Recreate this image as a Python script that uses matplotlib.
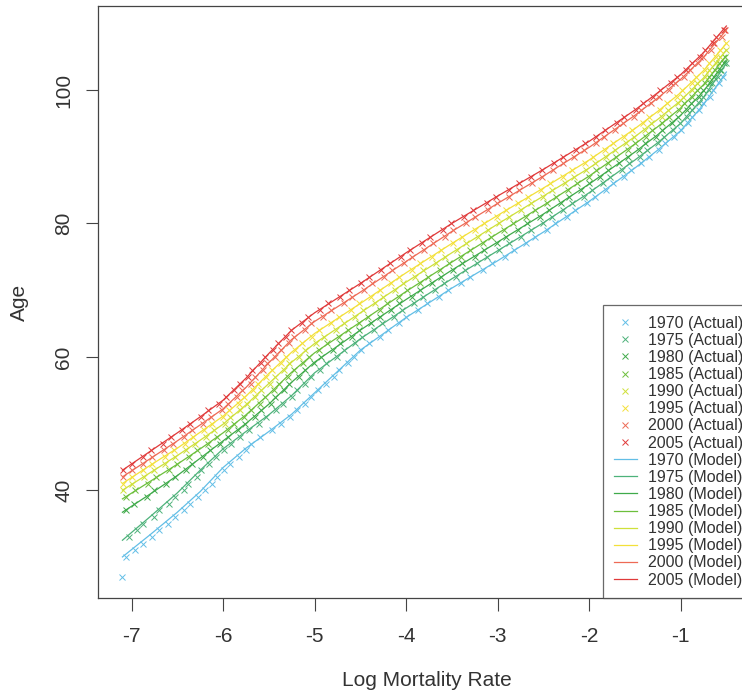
import numpy as np
import matplotlib
matplotlib.use("Agg")
import matplotlib.pyplot as plt

plt.rcParams['font.family'] = ['Liberation Sans', 'DejaVu Sans']

years = [1970, 1975, 1980, 1985, 1990, 1995, 2000, 2005]
colors = ['#62bee6', '#4db27a', '#3faa4a', '#6cbf3c', '#cfe03a', '#f3e03a', '#ee6a55', '#e03a3a']

# model curves: age read at each log mortality grid value
x_grid = [-7.1, -6.8, -6.5, -6.25, -6.0, -5.75, -5.5, -5.25, -5.0, -4.5,
          -4.0, -3.5, -3.0, -2.5, -2.0, -1.5, -1.25, -1.0, -0.75, -0.5]
fit_1970 = [30.0, 33.3, 36.7, 39.8, 43.4, 46.3, 48.8, 51.4, 54.6, 61.0, 65.9, 70.3, 74.4, 78.7, 83.3, 88.3, 91.0, 93.9, 97.8, 102.7]
fit_1975 = [32.5, 36.0, 39.6, 43.0, 46.2, 48.8, 51.3, 54.2, 57.6, 62.7, 67.3, 71.7, 75.9, 80.1, 84.6, 89.5, 92.1, 95.0, 98.9, 104.0]
fit_1980 = [36.7, 39.4, 42.2, 44.8, 47.4, 50.0, 52.9, 56.2, 59.2, 64.0, 68.6, 73.0, 77.2, 81.4, 85.9, 90.7, 93.3, 96.2, 99.8, 104.5]
fit_1985 = [38.7, 41.3, 43.9, 46.2, 48.6, 51.3, 54.4, 57.7, 60.6, 65.2, 69.8, 74.2, 78.5, 82.7, 87.1, 91.9, 94.5, 97.3, 100.8, 105.2]
fit_1990 = [40.0, 42.6, 45.2, 47.5, 49.9, 52.8, 56.0, 59.2, 62.0, 66.6, 71.2, 75.6, 79.9, 84.1, 88.3, 93.0, 95.6, 98.4, 101.8, 106.0]
fit_1995 = [41.0, 43.7, 46.3, 48.7, 51.1, 54.1, 57.5, 60.7, 63.5, 68.0, 72.6, 77.0, 81.2, 85.3, 89.5, 94.2, 96.8, 99.6, 102.9, 107.0]
fit_2000 = [42.0, 44.7, 47.4, 49.8, 52.2, 55.4, 59.1, 62.6, 65.3, 69.7, 74.3, 78.8, 83.0, 87.1, 91.4, 96.2, 98.8, 101.6, 104.9, 109.0]
fit_2005 = [43.0, 45.8, 48.6, 51.0, 53.5, 56.8, 60.5, 64.0, 66.6, 71.0, 75.6, 80.0, 84.1, 88.1, 92.3, 97.0, 99.6, 102.3, 105.6, 109.6]

# actual log mortality, one value per age from the start age
start_age = [30, 33, 37, 39, 40, 41, 42, 43]
act_1970 = [-7.06, -6.96, -6.88, -6.78, -6.70, -6.60, -6.53, -6.43, -6.36, -6.27, -6.20, -6.12, -6.07, -5.99,
            -5.92, -5.83, -5.75, -5.69, -5.60, -5.47, -5.37, -5.27, -5.19, -5.11, -5.04, -4.96, -4.88, -4.79,
            -4.73, -4.63, -4.57, -4.49, -4.41, -4.29, -4.20, -4.08, -4.00, -3.87, -3.77, -3.64, -3.54, -3.40,
            -3.30, -3.16, -3.06, -2.92, -2.82, -2.69, -2.59, -2.46, -2.37, -2.24, -2.15, -2.02, -1.94, -1.82,
            -1.74, -1.62, -1.54, -1.43, -1.35, -1.24, -1.17, -1.07, -1.00, -0.92, -0.88, -0.80, -0.75, -0.68,
            -0.65, -0.58, -0.54]
act_1975 = [-7.03, -6.94, -6.87, -6.76, -6.70, -6.59, -6.53, -6.43, -6.38, -6.29, -6.24, -6.15, -6.08, -5.99,
            -5.91, -5.81, -5.72, -5.61, -5.53, -5.42, -5.35, -5.25, -5.19, -5.10, -5.04, -4.94, -4.87, -4.75,
            -4.68, -4.56, -4.48, -4.35, -4.26, -4.13, -4.04, -3.91, -3.82, -3.68, -3.59, -3.45, -3.36, -3.22,
            -3.12, -2.98, -2.88, -2.74, -2.64, -2.50, -2.41, -2.28, -2.19, -2.06, -1.97, -1.85, -1.77, -1.64,
            -1.56, -1.44, -1.37, -1.25, -1.18, -1.08, -1.01, -0.93, -0.88, -0.80, -0.76, -0.69, -0.66, -0.59,
            -0.56, -0.50]
act_1980 = [-7.06, -6.97, -6.83, -6.75, -6.62, -6.53, -6.41, -6.34, -6.22, -6.14, -6.03, -5.95, -5.84, -5.76,
            -5.65, -5.59, -5.48, -5.43, -5.33, -5.28, -5.17, -5.11, -5.01, -4.93, -4.80, -4.72, -4.59, -4.51,
            -4.38, -4.29, -4.16, -4.08, -3.94, -3.85, -3.72, -3.62, -3.49, -3.39, -3.25, -3.15, -3.01, -2.91,
            -2.78, -2.68, -2.54, -2.44, -2.31, -2.22, -2.09, -2.00, -1.88, -1.79, -1.67, -1.58, -1.46, -1.39,
            -1.27, -1.20, -1.09, -1.03, -0.93, -0.89, -0.80, -0.75, -0.68, -0.64, -0.57, -0.53]
act_1985 = [-7.06, -6.96, -6.82, -6.73, -6.59, -6.50, -6.37, -6.28, -6.16, -6.07, -5.95, -5.88, -5.77, -5.70,
            -5.60, -5.54, -5.44, -5.39, -5.29, -5.23, -5.13, -5.06, -4.95, -4.86, -4.73, -4.64, -4.51, -4.42,
            -4.29, -4.21, -4.08, -3.99, -3.85, -3.76, -3.63, -3.53, -3.40, -3.30, -3.16, -3.07, -2.93, -2.83,
            -2.69, -2.59, -2.46, -2.36, -2.23, -2.13, -2.00, -1.92, -1.79, -1.71, -1.58, -1.50, -1.38, -1.31,
            -1.20, -1.13, -1.02, -0.96, -0.87, -0.82, -0.73, -0.69, -0.62, -0.58, -0.51]
act_1990 = [-7.09, -6.99, -6.86, -6.76, -6.63, -6.53, -6.40, -6.31, -6.19, -6.10, -5.98, -5.92, -5.81, -5.74,
            -5.65, -5.59, -5.49, -5.43, -5.33, -5.28, -5.17, -5.10, -4.99, -4.90, -4.77, -4.68, -4.56, -4.47,
            -4.34, -4.25, -4.12, -4.03, -3.90, -3.81, -3.67, -3.58, -3.44, -3.35, -3.21, -3.11, -2.98, -2.88,
            -2.74, -2.64, -2.50, -2.40, -2.26, -2.16, -2.03, -1.94, -1.81, -1.72, -1.60, -1.51, -1.39, -1.32,
            -1.20, -1.14, -1.03, -0.97, -0.87, -0.82, -0.73, -0.69, -0.61, -0.57, -0.50]
act_1995 = [-7.09, -7.00, -6.87, -6.78, -6.64, -6.54, -6.42, -6.33, -6.21, -6.12, -6.00, -5.94, -5.83, -5.77,
            -5.67, -5.62, -5.53, -5.47, -5.37, -5.31, -5.21, -5.14, -5.03, -4.95, -4.82, -4.73, -4.60, -4.51,
            -4.38, -4.29, -4.16, -4.08, -3.94, -3.85, -3.72, -3.62, -3.49, -3.39, -3.25, -3.15, -3.01, -2.91,
            -2.78, -2.67, -2.53, -2.43, -2.29, -2.19, -2.05, -1.96, -1.83, -1.74, -1.62, -1.53, -1.41, -1.34,
            -1.22, -1.15, -1.04, -0.98, -0.88, -0.83, -0.73, -0.69, -0.61, -0.57, -0.50]
act_2000 = [-7.09, -7.00, -6.87, -6.78, -6.65, -6.55, -6.43, -6.34, -6.22, -6.13, -6.01, -5.95, -5.85, -5.79,
            -5.70, -5.65, -5.56, -5.52, -5.43, -5.37, -5.28, -5.22, -5.11, -5.04, -4.91, -4.82, -4.68, -4.59,
            -4.46, -4.37, -4.24, -4.15, -4.02, -3.93, -3.80, -3.71, -3.58, -3.49, -3.35, -3.25, -3.11, -3.01,
            -2.87, -2.77, -2.62, -2.52, -2.39, -2.29, -2.16, -2.06, -1.93, -1.84, -1.72, -1.63, -1.51, -1.43,
            -1.32, -1.24, -1.13, -1.06, -0.96, -0.90, -0.81, -0.75, -0.67, -0.63, -0.55, -0.51]
act_2005 = [-7.09, -7.00, -6.88, -6.79, -6.66, -6.57, -6.45, -6.36, -6.24, -6.16, -6.04, -5.97, -5.88, -5.82,
            -5.73, -5.68, -5.59, -5.54, -5.45, -5.40, -5.31, -5.26, -5.14, -5.07, -4.94, -4.85, -4.72, -4.62,
            -4.49, -4.40, -4.27, -4.18, -4.06, -3.96, -3.83, -3.74, -3.60, -3.51, -3.37, -3.27, -3.12, -3.02,
            -2.88, -2.77, -2.63, -2.52, -2.38, -2.28, -2.14, -2.05, -1.92, -1.83, -1.70, -1.62, -1.49, -1.41,
            -1.30, -1.22, -1.11, -1.04, -0.94, -0.88, -0.79, -0.73, -0.65, -0.61, -0.53]
# one early outlier for 1970 (log rate, age)
extra_1970 = (-7.10, 27)

fits = [fit_1970, fit_1975, fit_1980, fit_1985, fit_1990, fit_1995, fit_2000, fit_2005]
acts = [act_1970, act_1975, act_1980, act_1985, act_1990, act_1995, act_2000, act_2005]

W, H = 742, 697
fig = plt.figure(figsize=(W / 100, H / 100), dpi=100)
ax = fig.add_axes([98 / W, 1 - 598 / H, (756 - 98) / W, (598 - 6) / H])

handles_a = []
handles_m = []
for i in range(len(years)):
    ages = np.arange(start_age[i], start_age[i] + len(acts[i]))
    xs = np.array(acts[i])
    if years[i] == 1970:
        xs = np.append(extra_1970[0], xs)
        ages = np.append(extra_1970[1], ages)
    h, = ax.plot(xs, ages, ls='none', marker='x', ms=4.5, mew=0.7, color=colors[i],
                 label=str(years[i]) + " (Actual)")
    handles_a.append(h)
for i in range(len(years)):
    h, = ax.plot(x_grid, fits[i], lw=0.9, color=colors[i], label=str(years[i]) + " (Model)")
    handles_m.append(h)

ax.set_xlim(-7.367, -0.176)
ax.set_ylim(23.84, 112.6)
ax.set_xticks([-7, -6, -5, -4, -3, -2, -1])
ax.set_xticklabels(["-7", "-6", "-5", "-4", "-3", "-2", "-1"])
ax.set_yticks([40, 60, 80, 100])
ax.set_yticklabels(["40", "60", "80", "100"], rotation=90, va='center')
ax.tick_params(direction='out', length=9, width=0.8, colors='#444444', labelcolor='#333333',
               labelsize=15)
ax.tick_params(axis='x', pad=12)
ax.tick_params(axis='y', pad=9)
for s in ax.spines.values():
    s.set_color('#444444')
    s.set_linewidth(0.9)

fig.text(427 / W, 1 - 681 / H, "Log Mortality Rate", ha='center', va='center', fontsize=15, color='#333333')
fig.text(19 / W, 1 - 302 / H, "Age", ha='center', va='center', rotation=90, fontsize=15, color='#333333')

leg = ax.legend(handles=handles_a + handles_m, loc='lower right',
                bbox_to_anchor=(754 / W, 1 - 598 / H), bbox_transform=fig.transFigure,
                borderaxespad=0, fontsize=11.5, frameon=True, fancybox=False, labelspacing=0.133,
                handlelength=1.45, handletextpad=0.72, borderpad=0.65)
leg.get_frame().set_edgecolor('#444444')
leg.get_frame().set_linewidth(0.9)
for t in leg.get_texts():
    t.set_color('#333333')

fig.savefig("out.png", dpi=100)
